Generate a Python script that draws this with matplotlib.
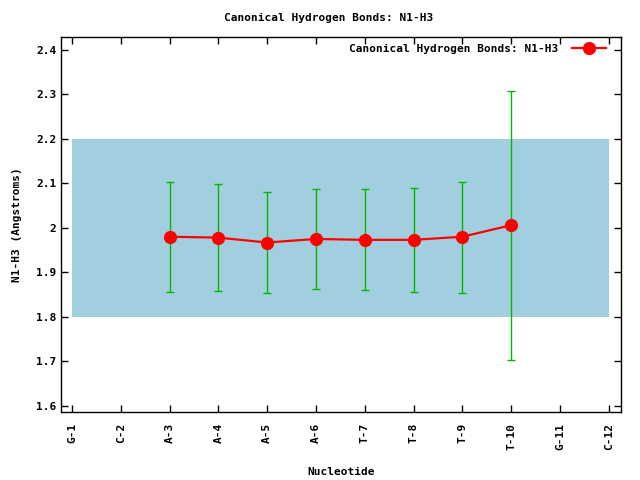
import matplotlib
matplotlib.use("Agg")
import matplotlib.pyplot as plt

labels = ["G-1", "C-2", "A-3", "A-4", "A-5", "A-6", "T-7", "T-8", "T-9", "T-10", "G-11", "C-12"]
positions = [1, 2, 3, 4, 5, 6, 7, 8, 9, 10, 11, 12]
data_pos = [3, 4, 5, 6, 7, 8, 9, 10]
mean = [1.980, 1.978, 1.967, 1.975, 1.973, 1.973, 1.980, 2.006]
low = [1.855, 1.857, 1.853, 1.862, 1.860, 1.855, 1.853, 1.704]
high = [2.102, 2.098, 2.080, 2.087, 2.087, 2.089, 2.102, 2.307]
band_low, band_high = 1.8, 2.2
yticks = [1.6, 1.7, 1.8, 1.9, 2.0, 2.1, 2.2, 2.3, 2.4]
ytick_labels = ["1.6", "1.7", "1.8", "1.9", "2", "2.1", "2.2", "2.3", "2.4"]

plt.rcParams['font.family'] = ['DejaVu Sans Mono']
plt.rcParams['font.weight'] = 'bold'
plt.rcParams['font.size'] = 8

fig = plt.figure(figsize=(6.4, 4.8), dpi=100)
ax = fig.add_axes([61/640, 68/480, 560/640, 375/480])

ax.fill_between([positions[0], positions[-1]], band_low, band_high, color="#a2cfdf", linewidth=0, zorder=1)

yerr = [[m - l for m, l in zip(mean, low)], [h - m for m, h in zip(mean, high)]]
ax.errorbar(data_pos, mean, yerr=yerr, fmt="none", ecolor="#00b800", elinewidth=1, capsize=3, capthick=1, zorder=2)
ax.plot(data_pos, mean, color="red", linewidth=1.6, marker="o", markersize=8.5, zorder=3,
        label="Canonical Hydrogen Bonds: N1-H3")

ax.set_xlim(0.775, 12.25)
ax.set_ylim(1.586, 2.429)
ax.set_xticks(positions)
ax.set_xticklabels(labels, rotation=90)
ax.set_yticks(yticks)
ax.set_yticklabels(ytick_labels)
ax.tick_params(direction="in", top=True, right=True, length=5, width=1)
ax.tick_params(axis='x', pad=8)
for s in ax.spines.values():
    s.set_linewidth(1)

fig.text(329/640, 1 - 18/480, "Canonical Hydrogen Bonds: N1-H3", ha="center", va="center",
         fontsize=8, fontweight="bold")
ax.set_xlabel("Nucleotide", fontsize=8, fontweight="bold", labelpad=12)
ax.set_ylabel("N1-H3 (Angstroms)", fontsize=8, fontweight="bold", labelpad=10)

leg = ax.legend(loc="upper right", frameon=False, markerfirst=False, handlelength=3.1,
                handletextpad=1.2, borderaxespad=0, borderpad=0,
                bbox_to_anchor=(606/640, 1 - 44/480), bbox_transform=fig.transFigure,
                prop={'size': 8, 'weight': 'bold'})

fig.savefig("out.png", dpi=100)
